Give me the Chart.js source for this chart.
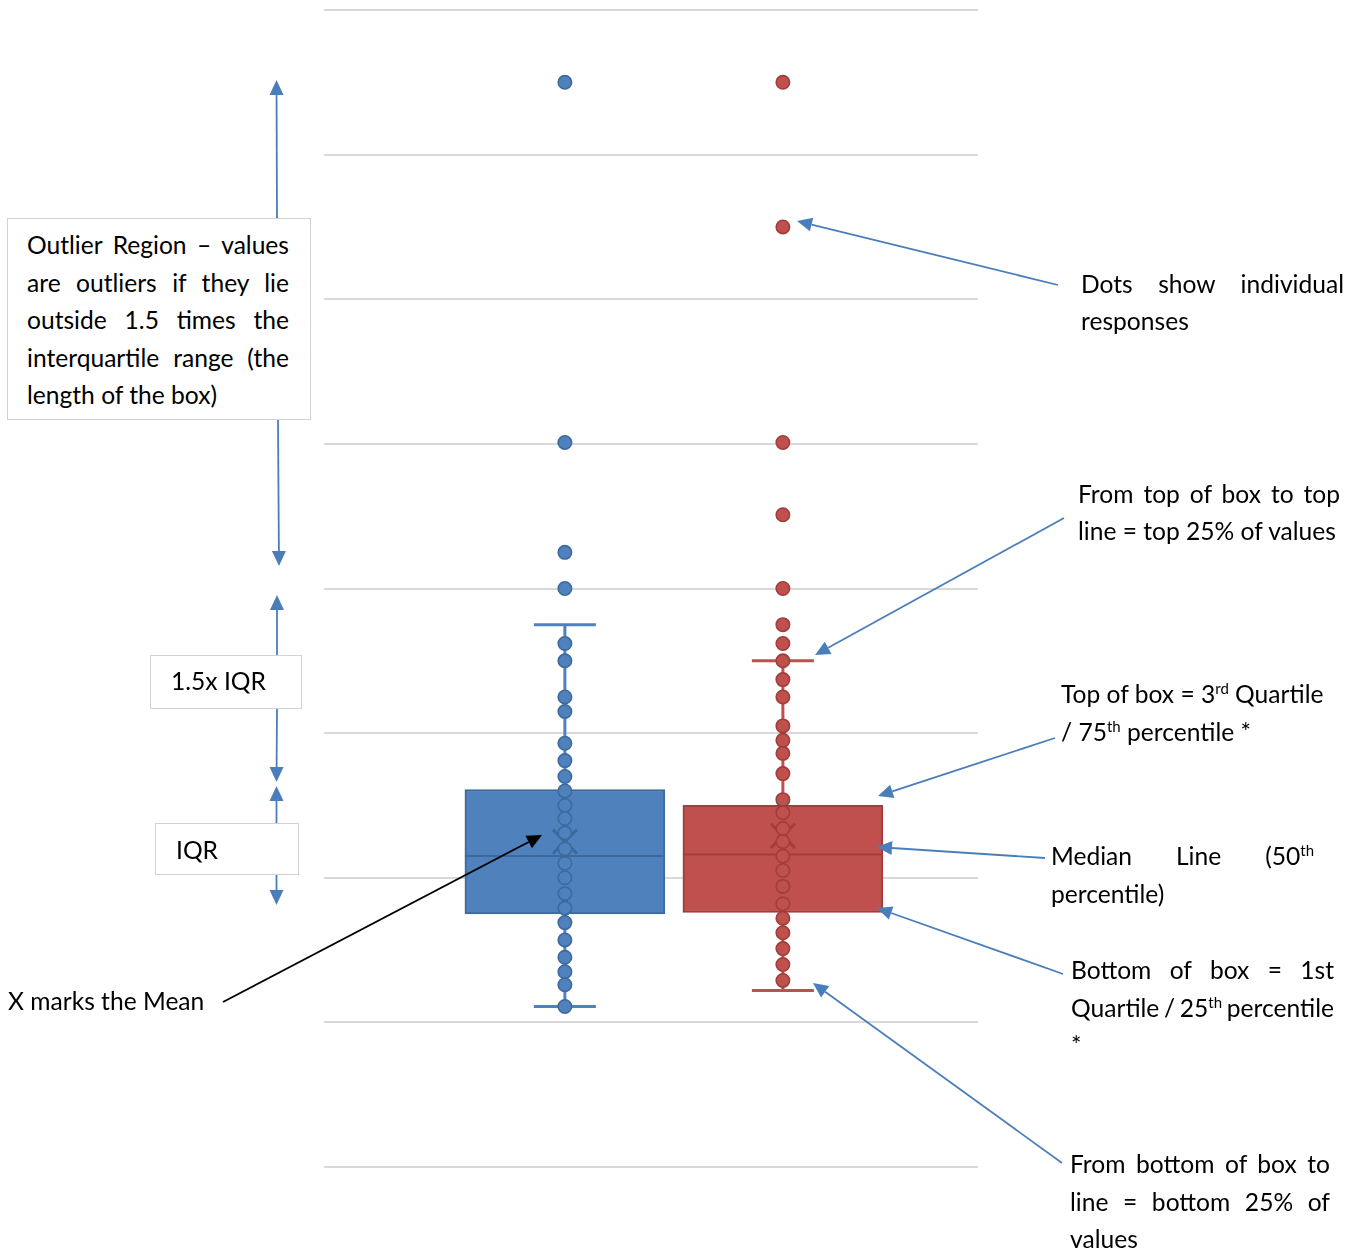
<!DOCTYPE html>
<html>
<head>
<meta charset="utf-8">
<title>How to read a box and whisker plot</title>
<script src="https://cdn.jsdelivr.net/npm/chart.js@4.4.1/dist/chart.umd.min.js"></script>
<style>
  html, body { margin: 0; padding: 0; background: #fff; }
  #page { position: relative; width: 1363px; height: 1251px; overflow: hidden;
          font-family: Lato, "Open Sans", sans-serif; color: #000; }
  #chart, #arrows { position: absolute; left: 0; top: 0; }
  .note { position: absolute; background: #fff; border: 1px solid #d2d2d2; box-sizing: border-box; }
  .ln { position: absolute; font-size: 24.6px; line-height: 30px; white-space: nowrap; }
  .ln sup { font-size: 15px; line-height: 0; position: relative; top: -9px; vertical-align: baseline; }
  .probe { display: inline-block; width: 0; height: 0; vertical-align: baseline; }
</style>
</head>
<body>
<div id="page">
  <canvas id="chart" width="1363" height="1251"></canvas>
  <svg id="arrows" width="1363" height="1251"></svg>
</div>
<script>
// ---- data ----------------------------------------------------------------
const categories = ['Series 1', 'Series 2'];

// individual responses
const series1Values = [75.0, 50.1, 42.5, 40.0, 36.2, 35.0, 32.5, 31.5, 29.3, 28.1, 27.0,
                       26.0, 25.0, 24.1, 23.1, 22.0, 21.0, 20.0, 18.9, 17.9, 16.9,
                       15.7, 14.5, 13.5, 12.6, 11.1];
const series2Values = [75.0, 65.0, 50.1, 45.1, 40.0, 37.5, 36.2, 35.0, 33.7, 32.5, 30.5,
                       29.5, 28.6, 27.2, 25.4, 24.5, 23.4, 22.5, 21.5, 20.5, 19.4,
                       18.2, 17.2, 16.2, 15.1, 14.0, 12.9];

// box summaries, one entry per series
const whiskerLow  = [11.1, 12.2];
const q1Values    = [17.5, 17.6];
const medianVals  = [21.5, 21.6];
const meanVals    = [22.5, 22.9];
const q3Values    = [26.1, 25.0];
const whiskerHigh = [37.5, 35.0];

// value axis
const yMin = 0, yMax = 80, yStep = 10;

// ---- layout / style ------------------------------------------------------
const seriesX = [1.105, 2.105];        // placement on the hidden horizontal axis
const fills   = ['#4f81bd', '#c0504d'];
const darks   = ['#3d6a9e', '#a03e3b'];
const allValues = [series1Values, series2Values];

const datasets = [];
categories.forEach((name, i) => {
  const x = seriesX[i];
  datasets.push({
    type: 'bar', label: name + ' box',
    data: [{ x, y: [q1Values[i], q3Values[i]] }],
    backgroundColor: fills[i], borderColor: darks[i], borderWidth: 2,
    borderSkipped: false, barThickness: 200, grouped: false, order: 5
  });
  datasets.push({
    type: 'line', label: name + ' whiskers',
    data: [{ x, y: whiskerLow[i] }, { x, y: whiskerHigh[i] }],
    borderColor: fills[i], borderWidth: 3, fill: false,
    pointStyle: 'line', pointRadius: 31, pointBorderWidth: 3,
    pointBorderColor: fills[i], order: 6
  });
  datasets.push({
    type: 'scatter', label: name + ' median',
    data: [{ x, y: medianVals[i] }],
    pointStyle: 'line', pointRadius: 100, pointBorderWidth: 2,
    pointBorderColor: darks[i], order: 4
  });
  datasets.push({
    type: 'scatter', label: name + ' mean',
    data: [{ x, y: meanVals[i] }],
    pointStyle: 'crossRot', pointRadius: 17, pointBorderWidth: 3,
    pointBorderColor: darks[i], order: 3
  });
  datasets.push({
    type: 'scatter', label: name,
    data: allValues[i].map(v => ({ x, y: v })),
    pointStyle: 'circle', pointRadius: 6.7, pointBorderWidth: 1.6,
    pointBackgroundColor: fills[i], pointBorderColor: darks[i], order: 1
  });
});

new Chart(document.getElementById('chart'), {
  type: 'bar',
  data: { datasets },
  options: {
    responsive: false,
    animation: false,
    events: [],
    layout: { autoPadding: false, padding: { left: 324, right: 385, top: 10, bottom: 84 } },
    plugins: { legend: { display: false }, tooltip: { enabled: false } },
    scales: {
      x: { type: 'linear', min: 0, max: 3, offset: false, display: false },
      y: {
        type: 'linear', min: yMin, max: yMax,
        ticks: { stepSize: yStep, display: false },
        grid: { color: '#d9d9d9', lineWidth: 2, drawTicks: false },
        border: { display: false }
      }
    }
  }
});

// ---- explanatory notes ---------------------------------------------------
const page = document.getElementById('page');
const svg = document.getElementById('arrows');
const NS = 'http://www.w3.org/2000/svg';

function arrow(x1, y1, x2, y2, color) {
  const dx = x2 - x1, dy = y2 - y1, len = Math.hypot(dx, dy);
  const ux = dx / len, uy = dy / len, hl = 15, hw = 7;
  const bx = x2 - ux * hl, by = y2 - uy * hl;
  const l = document.createElementNS(NS, 'line');
  l.setAttribute('x1', x1); l.setAttribute('y1', y1);
  l.setAttribute('x2', bx); l.setAttribute('y2', by);
  l.setAttribute('stroke', color); l.setAttribute('stroke-width', 1.8);
  svg.appendChild(l);
  const p = document.createElementNS(NS, 'polygon');
  p.setAttribute('points', `${x2},${y2} ${bx - uy * hw},${by + ux * hw} ${bx + uy * hw},${by - ux * hw}`);
  p.setAttribute('fill', color);
  svg.appendChild(p);
}

const blueArrow = '#4a7ebb';
[
  [277, 218, 276.5, 80], [278, 420, 279, 566],
  [277, 655, 277, 595], [277, 709, 276.5, 782],
  [276.5, 823, 276.5, 786], [276.5, 875, 276.5, 905],
  [1058, 285, 797, 221], [1064, 518, 815, 655],
  [1055, 738, 878, 796], [1045, 858, 877, 847],
  [1063, 974, 877, 908], [1062, 1163, 813, 983]
].forEach(a => arrow(a[0], a[1], a[2], a[3], blueArrow));
arrow(223, 1002, 542, 835, '#000');

function note(x, y, w, h) {
  const d = document.createElement('div');
  d.className = 'note';
  Object.assign(d.style, { left: x + 'px', top: y + 'px', width: w + 'px', height: h + 'px' });
  page.appendChild(d);
}
note(7, 218, 304, 202);
note(150, 655, 152, 54);
note(155, 823, 144, 52);

function line(html, x, base, w) {
  const d = document.createElement('div');
  d.className = 'ln';
  d.innerHTML = html + '<span class="probe"></span>';
  d.style.left = x + 'px';
  d.style.top = '0px';
  page.appendChild(d);
  const probe = d.querySelector('.probe');
  d.style.top = (base - probe.offsetTop) + 'px';
  if (w) {
    const natural = d.getBoundingClientRect().width;
    const gaps = (d.textContent.match(/ /g) || []).length;
    if (gaps) d.style.wordSpacing = ((w - natural) / gaps) + 'px';
  }
}

// outlier box
line('Outlier Region – values', 27, 254, 262);
line('are outliers if they lie', 27, 291.5, 262);
line('outside 1.5 times the', 27, 329, 262);
line('interquartile range (the', 27, 366.5, 262);
line('length of the box)', 27, 404);
line('1.5x IQR', 171, 690);
line('IQR', 176, 859);
line('X marks the Mean', 8, 1010);

// right-hand notes
line('Dots show individual', 1081, 293, 263);
line('responses', 1081, 330);
line('From top of box to top', 1078, 503, 262);
line('line = top 25% of values', 1078, 540);
line('Top of box = 3<sup>rd</sup> Quartile', 1061, 703);
line('/ 75<sup>th</sup> percentile *', 1061, 741);
line('Median Line (50<sup>th</sup>', 1051, 865, 263);
line('percentile)', 1051, 903);
line('Bottom of box = 1st', 1071, 979, 263);
line('Quartile / 25<sup>th</sup> percentile', 1071, 1016.5, 263);
line('*', 1071, 1054);
line('From bottom of box to', 1070, 1173, 260);
line('line = bottom 25% of', 1070, 1210.5, 260);
line('values', 1070, 1248);
</script>
</body>
</html>
